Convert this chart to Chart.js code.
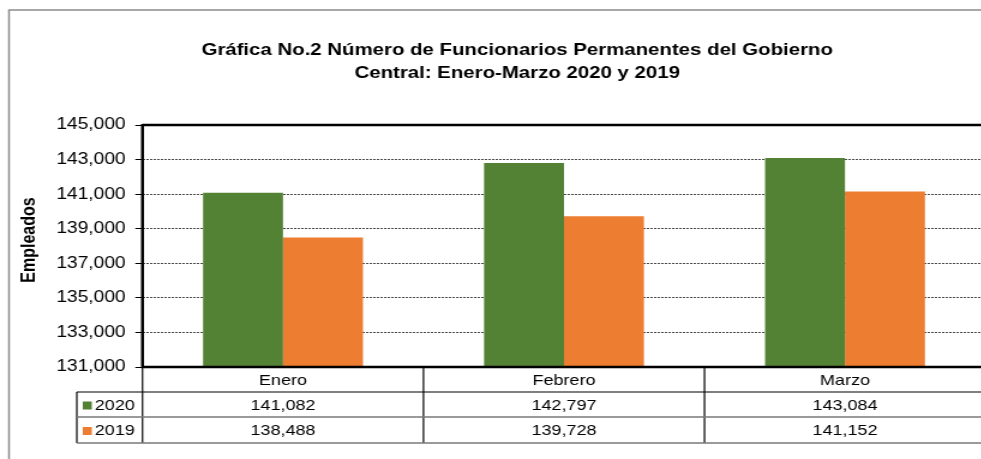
<!DOCTYPE html>
<html>
<head>
<meta charset="utf-8">
<script src="https://cdn.jsdelivr.net/npm/chart.js@4/dist/chart.umd.min.js"></script>
<style>
  html, body { margin: 0; padding: 0; background: #fff; width: 981px; height: 459px; overflow: hidden; }
  #wrap { transform: scale(1.2, 1); transform-origin: 0 0; width: 830px; height: 459px; }
  canvas { display: block; }
</style>
</head>
<body>
<div id="wrap"><canvas id="c" width="830" height="459" style="width:830px;height:459px"></canvas></div>
<script>
// ---- data ----
const categories = ['Enero', 'Febrero', 'Marzo'];
const seriesLabels = ['2020', '2019'];
const values2020 = [141082, 142797, 143084];
const values2019 = [138488, 139728, 141152];
const titleLines = ['Gráfica No.2 Número de Funcionarios Permanentes del Gobierno', 'Central: Enero-Marzo 2020 y 2019'];
const yAxisTitle = 'Empleados';
const yMin = 131000, yMax = 145000, yStep = 2000;

const colors = ['#548235', '#ED7D31'];
const FONT = '"Liberation Sans", Arial, sans-serif';
const fmt = v => Number(v).toLocaleString('en-US');

const decor = {
  id: 'decor',
  beforeDraw(chart) {
    const ctx = chart.ctx;
    ctx.save();
    ctx.fillStyle = '#fff';
    ctx.fillRect(0, 0, chart.width, chart.height);
    // outer border
    ctx.strokeStyle = '#8c8c8c';
    ctx.lineWidth = 1.5;
    ctx.beginPath();
    ctx.moveTo(7.5, chart.height + 2);
    ctx.lineTo(7.5, 10);
    ctx.lineTo(chart.width + 2, 10);
    ctx.stroke();
    ctx.restore();
  },
  afterDraw(chart) {
    const ctx = chart.ctx;
    const { left, right, top, bottom } = chart.chartArea;
    const xs = chart.scales.x;
    ctx.save();
    // title
    ctx.fillStyle = '#000';
    ctx.font = 'bold 17px ' + FONT;
    ctx.textAlign = 'center';
    ctx.textBaseline = 'middle';
    ctx.fillText(titleLines[0], 431, 50);
    ctx.fillText(titleLines[1], 431, 73);
    // y axis title
    ctx.save();
    ctx.translate(25, 240);
    ctx.rotate(-Math.PI / 2);
    ctx.font = 'bold 16px ' + FONT;
    ctx.fillText(yAxisTitle, 0, 0);
    ctx.restore();

    // frame
    ctx.strokeStyle = '#000';
    ctx.lineWidth = 2.5;
    ctx.beginPath();
    ctx.moveTo(left, top); ctx.lineTo(right + 5, top);
    ctx.moveTo(left, top - 1); ctx.lineTo(left, bottom);
    ctx.moveTo(left - 1, bottom); ctx.lineTo(right + 5, bottom);
    ctx.stroke();

    // data table
    const rowH = [bottom, 392, 417, 443];
    const legLeft = 64;
    const colW = (right - left) / categories.length;
    ctx.lineWidth = 1.2;
    ctx.strokeStyle = '#000';
    ctx.beginPath();
    ctx.moveTo(legLeft, rowH[1]); ctx.lineTo(right + 5, rowH[1]);
    ctx.moveTo(left, bottom); ctx.lineTo(left, rowH[3]);
    ctx.moveTo(legLeft, rowH[1]); ctx.lineTo(legLeft, rowH[3]);
    for (let i = 1; i < categories.length; i++) {
      const x = left + colW * i;
      ctx.moveTo(x, bottom); ctx.lineTo(x, rowH[3]);
    }
    ctx.stroke();
    ctx.strokeStyle = '#7a7a7a';
    ctx.lineWidth = 1.6;
    ctx.beginPath();
    ctx.moveTo(legLeft, rowH[2]); ctx.lineTo(right + 5, rowH[2]);
    ctx.moveTo(legLeft, rowH[3]); ctx.lineTo(right + 5, rowH[3]);
    ctx.stroke();

    ctx.fillStyle = '#000';
    ctx.font = '15px ' + FONT;
    ctx.textAlign = 'center';
    const series = [values2020, values2019];
    categories.forEach((c, i) => {
      const cx = xs.getPixelForValue(i);
      ctx.fillText(c, cx, (rowH[0] + rowH[1]) / 2 + 1);
      series.forEach((s, j) => {
        ctx.fillText(fmt(s[i]), cx, (rowH[j + 1] + rowH[j + 2]) / 2 + 1);
      });
    });
    // legend keys
    ctx.textAlign = 'left';
    seriesLabels.forEach((lab, j) => {
      const cy = (rowH[j + 1] + rowH[j + 2]) / 2 + 1;
      ctx.fillStyle = colors[j];
      ctx.fillRect(69, cy - 4, 7.5, 8);
      ctx.fillStyle = '#000';
      ctx.fillText(lab, 79, cy);
    });
    ctx.restore();
  }
};

new Chart(document.getElementById('c'), {
  type: 'bar',
  data: {
    labels: categories,
    datasets: [
      { label: seriesLabels[0], data: values2020, backgroundColor: colors[0], borderWidth: 0 },
      { label: seriesLabels[1], data: values2019, backgroundColor: colors[1], borderWidth: 0 }
    ]
  },
  options: {
    responsive: false,
    animation: false,
    events: [],
    layout: { padding: { top: 125, bottom: 92, left: 0, right: 8.75 } },
    datasets: { bar: { categoryPercentage: 0.569, barPercentage: 1.0 } },
    plugins: { legend: { display: false }, title: { display: false }, tooltip: { enabled: false } },
    scales: {
      x: { type: 'category', display: false, offset: true },
      y: {
        min: yMin, max: yMax,
        afterFit(scale) { scale.width = 118.75; },
        ticks: {
          stepSize: yStep,
          color: '#000',
          font: { family: FONT, size: 16 },
          padding: 8,
          callback: v => fmt(v)
        },
        grid: {
          color: '#4a4a4a',
          lineWidth: 1,
          drawTicks: true,
          tickLength: 6,
          tickColor: '#000',
          tickWidth: 1,
          tickBorderDash: []
        },
        border: { display: false, dash: [2, 1] }
      }
    }
  },
  plugins: [decor]
});
</script>
</body>
</html>
